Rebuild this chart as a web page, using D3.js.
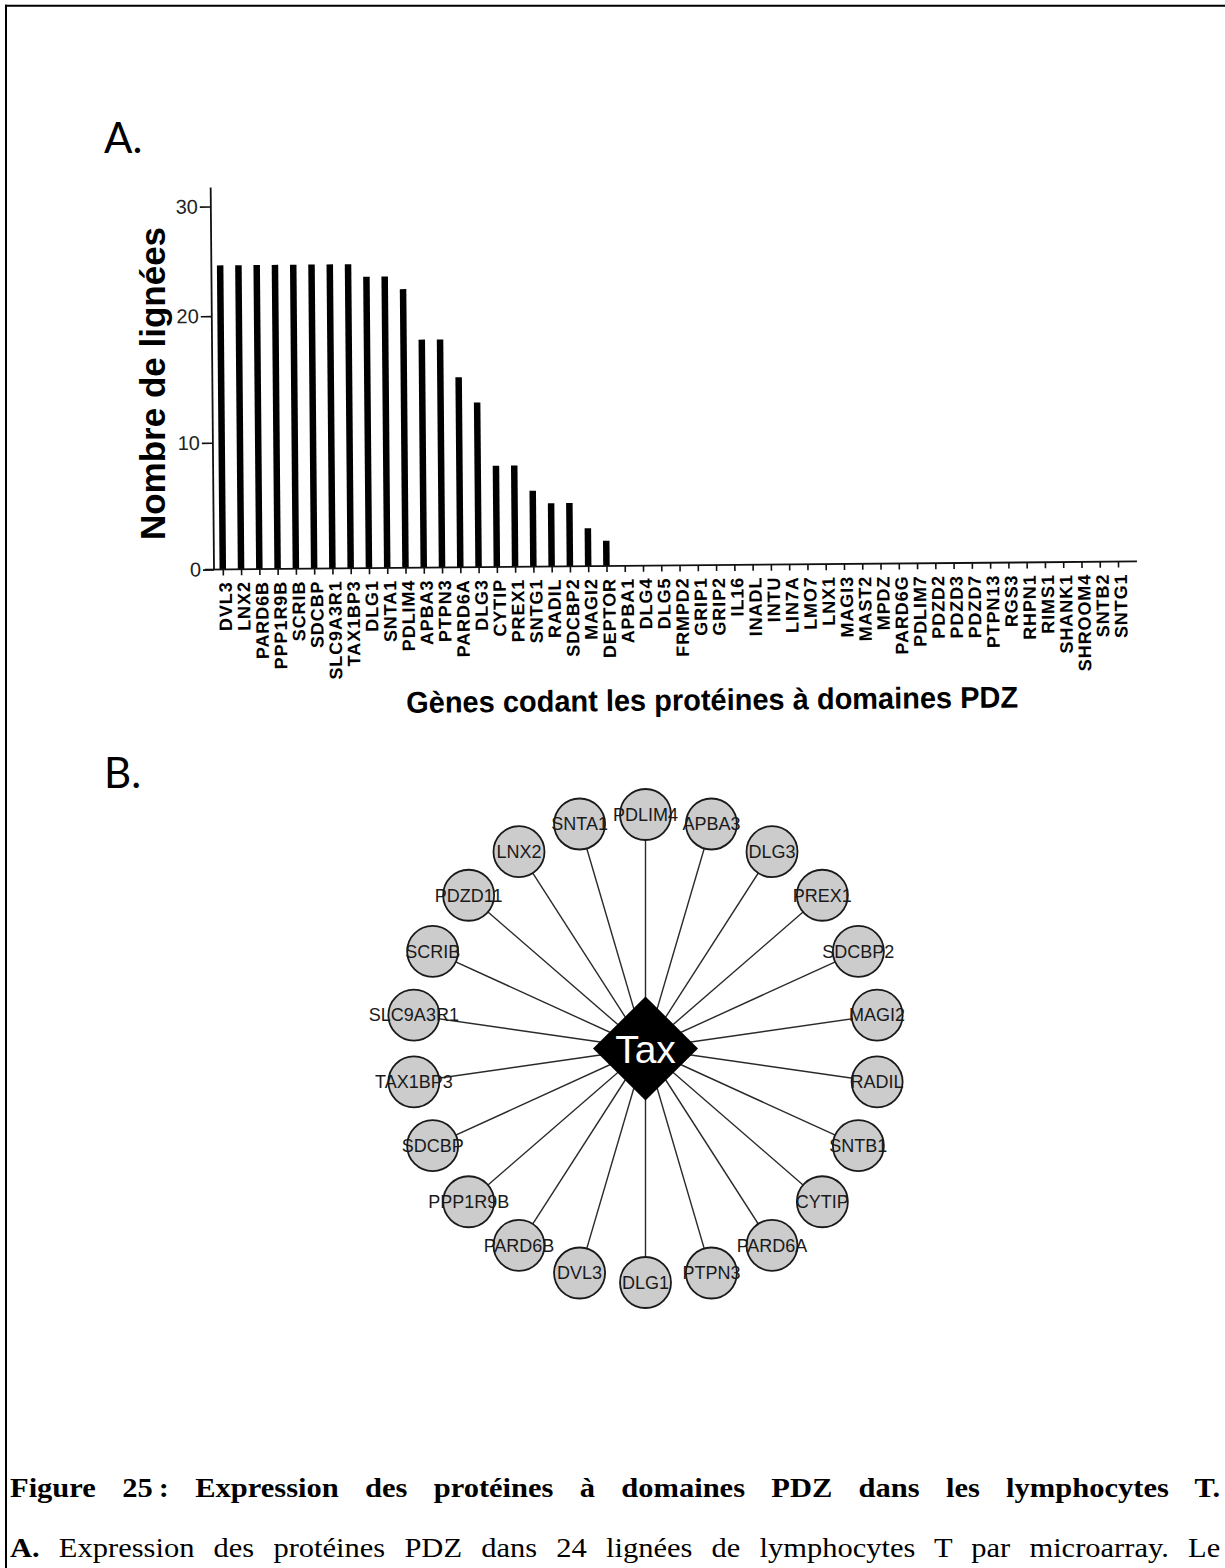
<!DOCTYPE html>
<html>
<head>
<meta charset="utf-8">
<script src="https://cdn.jsdelivr.net/npm/d3@7"></script>
<style>
html,body{margin:0;padding:0;background:#fff;}
#wrap{position:relative;width:1225px;height:1568px;overflow:hidden;background:#fff;}
svg{position:absolute;left:0;top:0;}
.cap{position:absolute;left:10px;width:1071px;transform:scaleX(1.13);transform-origin:0 0;font-family:"Liberation Serif","Times New Roman",serif;font-size:27px;line-height:30px;text-align:justify;text-align-last:justify;color:#000;}
</style>
</head>
<body>
<div id="wrap">
<div class="cap" style="top:1473px;font-weight:bold;">Figure 25&#8239;: Expression des protéines à domaines PDZ dans les lymphocytes T.</div>
<div class="cap" style="top:1533px;"><b>A.</b> Expression des protéines PDZ dans 24 lignées de lymphocytes T par microarray. Le</div>
</div>
<script>
// ---- Data ----
const genes = ["DVL3","LNX2","PARD6B","PPP1R9B","SCRIB","SDCBP","SLC9A3R1","TAX1BP3","DLG1","SNTA1",
  "PDLIM4","APBA3","PTPN3","PARD6A","DLG3","CYTIP","PREX1","SNTG1","RADIL","SDCBP2","MAGI2","DEPTOR",
  "APBA1","DLG4","DLG5","FRMPD2","GRIP1","GRIP2","IL16","INADL","INTU","LIN7A","LMO7","LNX1","MAGI3",
  "MAST2","MPDZ","PARD6G","PDLIM7","PDZD2","PDZD3","PDZD7","PTPN13","RGS3","RHPN1","RIMS1","SHANK1",
  "SHROOM4","SNTB2","SNTG1"];
const counts = [24,24,24,24,24,24,24,24,23,23,22,18,18,15,13,8,8,6,5,5,3,2,
  0,0,0,0,0,0,0,0,0,0,0,0,0,0,0,0,0,0,0,0,0,0,0,0,0,0,0,0];
const yTicks = [0,10,20,30];
const yTitle = "Nombre de lignées";
const xTitle = "Gènes codant les protéines à domaines PDZ";
const hub = "Tax";
const partners = ["PDLIM4","APBA3","DLG3","PREX1","SDCBP2","MAGI2","RADIL","SNTB1","CYTIP","PARD6A",
  "PTPN3","DLG1","DVL3","PARD6B","PPP1R9B","SDCBP","TAX1BP3","SLC9A3R1","SCRIB","PDZD11","LNX2","SNTA1"];

const svg = d3.select("#wrap").insert("svg", ":first-child").attr("width",1225).attr("height",1568);

// page frame
svg.append("line").attr("x1",5).attr("x2",1225).attr("y1",5.7).attr("y2",5.7).attr("stroke","#000").attr("stroke-width",2);
svg.append("line").attr("x1",6).attr("x2",6).attr("y1",4.7).attr("y2",1568).attr("stroke","#000").attr("stroke-width",2);

// panel letters
svg.append("text").attr("x",104).attr("y",153).text("A.")
  .style("font-family","Lato, 'Open Sans', sans-serif").style("font-size","42px");
svg.append("text").attr("x",104).attr("y",788).text("B.")
  .style("font-family","Lato, 'Open Sans', sans-serif").style("font-size","42px");

// ---- Panel A : bar chart ----
const px = 214, py = 569.5;
const g = svg.append("g").attr("transform",`rotate(-0.5, ${px}, ${py})`);
const x = d3.scalePoint().domain(d3.range(genes.length)).range([222.8, 222.8 + 49*18.27]);
const y = d3.scaleLinear().domain([0,25,30]).range([py, py - 25*12.67, 206.5]);

g.selectAll("rect.bar").data(counts).join("rect").attr("class","bar")
  .attr("x",(d,i)=>x(i)-3.25).attr("width",6.5)
  .attr("y",d=>y(d)).attr("height",d=>y(0)-y(d)).attr("fill","#000");

const ya = g.append("g").attr("transform",`translate(${px},0)`)
  .call(d3.axisLeft(y).tickValues(yTicks).tickSize(11).tickPadding(2).tickFormat(d3.format("d")));
ya.select(".domain").remove();
ya.selectAll("line").attr("stroke","#111").attr("stroke-width",1.6);
ya.selectAll("text").style("font-family","'Liberation Sans', Arial, sans-serif").style("font-size","20px").attr("fill","#222");
g.append("line").attr("x1",px).attr("x2",px).attr("y1",187.5).attr("y2",py).attr("stroke","#111").attr("stroke-width",1.8);

const xa = g.append("g").attr("transform",`translate(0,${py})`)
  .call(d3.axisBottom(x).tickSize(6).tickFormat(i=>genes[i]));
xa.select(".domain").remove();
xa.selectAll("line").attr("stroke","#111").attr("stroke-width",1.6);
xa.selectAll("text")
  .attr("transform","rotate(-90)").attr("x",-12).attr("y",0).attr("dy","0.46em")
  .attr("text-anchor","end").attr("fill","#000")
  .style("font-family","'Liberation Sans', Arial, sans-serif").style("font-size","18px")
  .style("font-weight","bold").style("letter-spacing","0.9px");
g.append("line").attr("x1",205).attr("x2",1137).attr("y1",py).attr("y2",py).attr("stroke","#111").attr("stroke-width",1.8);

g.append("text").attr("x",711).attr("y",714.5).attr("text-anchor","middle")
  .attr("textLength",612).attr("lengthAdjust","spacingAndGlyphs")
  .style("font-family","'Liberation Sans', Arial, sans-serif").style("font-size","30px").style("font-weight","bold")
  .text(xTitle);

svg.append("text").attr("transform","translate(165,383.5) rotate(-90)").attr("text-anchor","middle")
  .style("font-family","'Liberation Sans', Arial, sans-serif").style("font-size","35px").style("font-weight","bold")
  .text(yTitle);

// ---- Panel B : network ----
const cx = 645.5, cy = 1048.5, R = 234;
const ang = d3.scaleLinear().domain([0, partners.length]).range([0, 2*Math.PI]);
const nodes = partners.map((name,i)=>({name, x: cx + R*Math.sin(ang(i)), y: cy - R*Math.cos(ang(i))}));
const net = svg.append("g");
net.selectAll("line.edge").data(nodes).join("line").attr("class","edge")
  .attr("x1",cx).attr("y1",cy).attr("x2",d=>d.x).attr("y2",d=>d.y)
  .attr("stroke","#2a2a2a").attr("stroke-width",1.4);
net.append("path")
  .attr("d",`M${cx},${cy-52} L${cx+52.5},${cy} L${cx},${cy+52} L${cx-52.5},${cy} Z`)
  .attr("fill","#000");
net.append("text").attr("x",cx).attr("y",cy+14).attr("text-anchor","middle").attr("fill","#fff")
  .style("font-family","'Liberation Sans', Arial, sans-serif").style("font-size","39px").text(hub);
net.selectAll("circle.node").data(nodes).join("circle").attr("class","node")
  .attr("cx",d=>d.x).attr("cy",d=>d.y).attr("r",25.5)
  .attr("fill","#cccccc").attr("stroke","#1a1a1a").attr("stroke-width",1.8);
net.selectAll("text.lbl").data(nodes).join("text").attr("class","lbl")
  .attr("x",d=>d.x).attr("y",d=>d.y).attr("dy","0.35em").attr("text-anchor","middle").attr("fill","#1a1a1a")
  .style("font-family","'Liberation Sans', Arial, sans-serif").style("font-size","18px")
  .text(d=>d.name);
</script>
</body>
</html>
